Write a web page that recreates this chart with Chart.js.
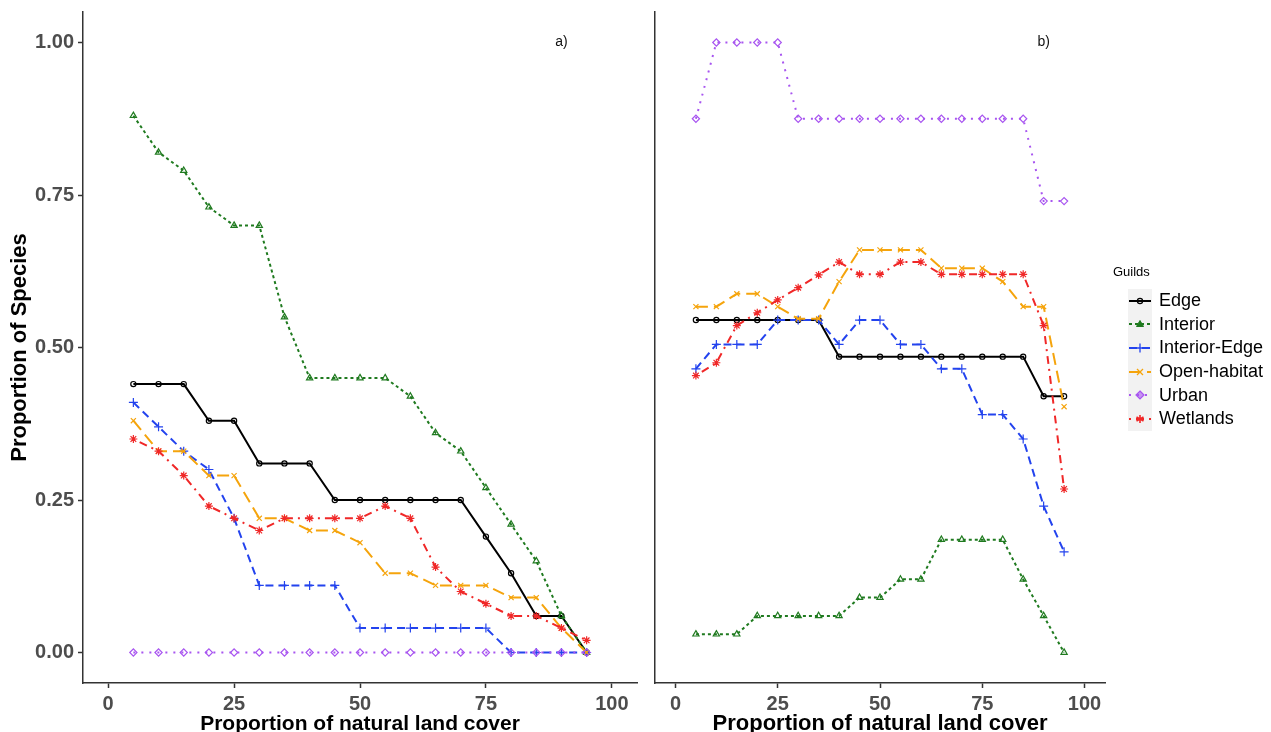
<!DOCTYPE html>
<html><head><meta charset="utf-8">
<script src="https://cdn.jsdelivr.net/npm/chart.js@4"></script>
<style>
html,body{margin:0;padding:0;background:#fff;overflow:hidden;width:1271px;height:732px;}
canvas{position:absolute;top:0;}
#ca{left:0;}
#cb{left:644px;}
#legend{position:absolute;left:1113px;top:262px;font-family:"Liberation Sans",Arial,sans-serif;color:#000;}
#legend .ttl{font-size:13px;height:20px;line-height:20px;margin-bottom:7px;}
#legend .row{height:23.6px;display:flex;align-items:center;}
#legend .row svg{margin-left:15px;margin-right:7px;}
#legend .row span{font-size:18px;}
</style></head>
<body>
<canvas id="ca" width="645" height="760"></canvas>
<canvas id="cb" width="471" height="760"></canvas>
<div id="legend"></div>
<script>
const xValues = [5,10,15,20,25,30,35,40,45,50,55,60,65,70,75,80,85,90,95];
const xTicks = [0,25,50,75,100];
const yTicks = [0,0.25,0.5,0.75,1];
const guilds = ["Edge","Interior","Interior-Edge","Open-habitat","Urban","Wetlands"];

// Panel a)
const aEdge        = [0.44,0.44,0.44,0.38,0.38,0.31,0.31,0.31,0.25,0.25,0.25,0.25,0.25,0.25,0.19,0.13,0.06,0.06,0.00];
const aInterior    = [0.88,0.82,0.79,0.73,0.70,0.70,0.55,0.45,0.45,0.45,0.45,0.42,0.36,0.33,0.27,0.21,0.15,0.06,0.00];
const aInteriorEdge= [0.41,0.37,0.33,0.30,0.22,0.11,0.11,0.11,0.11,0.04,0.04,0.04,0.04,0.04,0.04,0.00,0.00,0.00,0.00];
const aOpenHabitat = [0.38,0.33,0.33,0.29,0.29,0.22,0.22,0.20,0.20,0.18,0.13,0.13,0.11,0.11,0.11,0.09,0.09,0.04,0.00];
const aUrban       = [0,0,0,0,0,0,0,0,0,0,0,0,0,0,0,0,0,0,0];
const aWetlands    = [0.35,0.33,0.29,0.24,0.22,0.20,0.22,0.22,0.22,0.22,0.24,0.22,0.14,0.10,0.08,0.06,0.06,0.04,0.02];

// Panel b)
const bEdge        = [0.545,0.545,0.545,0.545,0.545,0.545,0.545,0.485,0.485,0.485,0.485,0.485,0.485,0.485,0.485,0.485,0.485,0.42,0.42];
const bInterior    = [0.03,0.03,0.03,0.06,0.06,0.06,0.06,0.06,0.09,0.09,0.12,0.12,0.185,0.185,0.185,0.185,0.12,0.06,0.00];
const bInteriorEdge= [0.465,0.505,0.505,0.505,0.545,0.545,0.545,0.505,0.545,0.545,0.505,0.505,0.465,0.465,0.39,0.39,0.35,0.24,0.165];
const bOpenHabitat = [0.567,0.567,0.588,0.588,0.567,0.547,0.547,0.608,0.66,0.66,0.66,0.66,0.63,0.63,0.63,0.608,0.567,0.567,0.403];
const bUrban       = [0.875,1,1,1,1,0.875,0.875,0.875,0.875,0.875,0.875,0.875,0.875,0.875,0.875,0.875,0.875,0.74,0.74];
const bWetlands    = [0.454,0.475,0.536,0.557,0.578,0.598,0.619,0.64,0.62,0.62,0.64,0.64,0.62,0.62,0.62,0.62,0.62,0.536,0.268];

const styles = [
  {color:'#000000', dash:[], pt:'circle', r:2.6},
  {color:'#1f7a1f', dash:[3,3], pt:'triangle', r:3.6},
  {color:'#2343ee', dash:[8,5], pt:'cross', r:4.5},
  {color:'#f5a40c', dash:[12,6], pt:'crossRot', r:3.6},
  {color:'#a855f0', dash:[2,6], pt:'rectRot', r:3.6},
  {color:'#f02828', dash:[2,5,8,5], pt:'star', r:4}
];

const FONT = '"Liberation Sans", Arial, sans-serif';
const AXC = '#333333';

function makeDatasets(series){
  return series.map((vals,i)=>({
    label: guilds[i],
    data: xValues.map((x,j)=>({x:x, y:vals[j]})),
    borderColor: styles[i].color,
    borderWidth: 2,
    borderDash: styles[i].dash,
    pointStyle: styles[i].pt,
    pointRadius: styles[i].r,
    pointBorderColor: styles[i].color,
    pointBackgroundColor: 'rgba(255,255,255,0)',
    pointBorderWidth: 1.2,
    tension: 0,
    order: 6 - i
  }));
}

const panelLabel = {
  id:'panelLabel',
  afterDatasetsDraw(chart, args, opts){
    const {ctx, scales} = chart;
    ctx.save();
    ctx.font = '14px ' + FONT;
    ctx.fillStyle = '#111';
    ctx.textAlign = 'center';
    ctx.textBaseline = 'middle';
    ctx.fillText(opts.text, scales.x.getPixelForValue(90), scales.y.getPixelForValue(1.0));
    ctx.restore();
  }
};

function makeChart(id, series, label, showY, yWidth, padRight, titleSize){
  return new Chart(document.getElementById(id), {
    type:'line',
    data:{datasets: makeDatasets(series)},
    plugins:[panelLabel],
    options:{
      responsive:false,
      animation:false,
      layout:{padding:{top:12,right:padRight,bottom:0,left:0}},
      plugins:{legend:{display:false}, tooltip:{enabled:false}, panelLabel:{text:label}},
      scales:{
        x:{
          type:'linear', min:-5, max:105,
          afterBuildTicks(s){ s.ticks = xTicks.map(v=>({value:v})); },
          afterFit(s){ s.height = 77; s.paddingLeft = 0; s.paddingRight = 0; },
          grid:{drawOnChartArea:false, drawTicks:true, tickLength:5, tickColor:AXC, tickWidth:1.5},
          border:{display:true, color:AXC, width:1.5},
          ticks:{color:'#4d4d4d', font:{family:FONT, size:20, weight:'bold'}, padding:4, maxRotation:0, callback:v=>String(v)},
          title:{display:true, text:'Proportion of natural land cover', color:'#000', font:{family:FONT, size:titleSize, weight:'bold'}, padding:{top:0,bottom:23}}
        },
        y:{
          type:'linear', min:-0.05, max:1.05,
          afterBuildTicks(s){ s.ticks = yTicks.map(v=>({value:v})); },
          afterFit(s){ s.width = yWidth; s.paddingTop = 0; s.paddingBottom = 0; },
          grid:{drawOnChartArea:false, drawTicks:showY, tickLength:5, tickColor:AXC, tickWidth:1.5},
          border:{display:true, color:AXC, width:1.5},
          ticks:{display:showY, color:'#4d4d4d', font:{family:FONT, size:20, weight:'bold'}, padding:4, callback:v=>v.toFixed(2)},
          title:{display:showY, text:'Proportion of Species', color:'#000', font:{family:FONT, size:22, weight:'bold'}, padding:{top:7,bottom:0}}
        }
      }
    }
  });
}

makeChart('ca', [aEdge,aInterior,aInteriorEdge,aOpenHabitat,aUrban,aWetlands], 'a)', true, 83, 8, 21);
makeChart('cb', [bEdge,bInterior,bInteriorEdge,bOpenHabitat,bUrban,bWetlands], 'b)', false, 11, 10, 22);

// Legend
function marker(i){
  const c = styles[i].color;
  switch(styles[i].pt){
    case 'circle': return `<circle cx="12" cy="12" r="2.6" fill="none" stroke="${c}" stroke-width="1.2"/>`;
    case 'triangle': return `<polygon points="12,8.5 15.5,14.5 8.5,14.5" fill="${c}" stroke="${c}" stroke-width="1"/>`;
    case 'cross': return `<path d="M12 7.5V16.5M7.5 12H16.5" stroke="${c}" stroke-width="1.3"/>`;
    case 'crossRot': return `<path d="M9 9L15 15M15 9L9 15" stroke="${c}" stroke-width="1.3"/>`;
    case 'rectRot': return `<polygon points="12,8 16,12 12,16 8,12" fill="${c}" fill-opacity="0.6" stroke="${c}" stroke-width="1.2"/>`;
    case 'star': return `<path d="M12 8V16M8.5 10L15.5 14M15.5 10L8.5 14" stroke="${c}" stroke-width="1.6"/>`;
  }
}
const lg = document.getElementById('legend');
let html = '<div class="ttl">Guilds</div>';
guilds.forEach((g,i)=>{
  const s = styles[i];
  html += `<div class="row"><svg width="24" height="24"><rect x="0" y="0" width="24" height="24" fill="#f2f2f2"/>`+
    `<line x1="1" y1="12" x2="23" y2="12" stroke="${s.color}" stroke-width="2" stroke-dasharray="${s.dash.length? s.dash.join(' '):'none'}"/>`+
    marker(i) + `</svg><span>${g}</span></div>`;
});
lg.innerHTML = html;
</script>
</body></html>
